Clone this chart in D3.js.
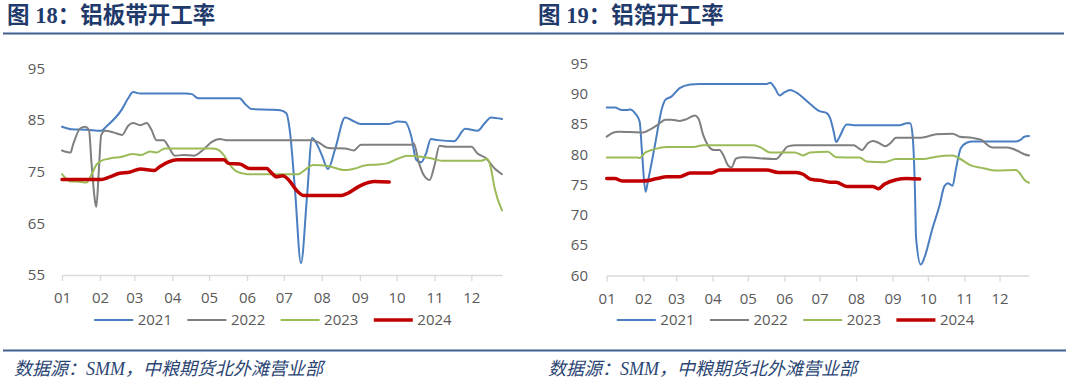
<!DOCTYPE html>
<html><head><meta charset="utf-8">
<script src="https://cdn.jsdelivr.net/npm/d3@7"></script>
<style>
body{margin:0;background:#fff;}
svg{display:block;}
</style></head><body>
<svg id="c" width="1080" height="384"></svg>
<script>
// ---------- data ----------
const years = ["2021", "2022", "2023", "2024"];
const monthLabels = ["01","02","03","04","05","06","07","08","09","10","11","12"];
const titles = ["图 18：铝板带开工率", "图 19：铝箔开工率"];
const sourceText = "数据源：SMM，中粮期货北外滩营业部";

// 图18 铝板带开工率 (x = day of year, y = %)
const plateDays2021 = [0,8,20,32,36,49,54,58,64,80,101,106,111,130,145,149,155,170,178,183,186,190,195,200,204,206,212,217,223,231,236,244,266,274,280,285,289,293,297,301,307,320,329,339,345,350,359];
const plateVals2021 = [83.7,83.2,83.1,82.9,83.7,87.1,89.2,90.4,90.1,90.1,90.1,90.0,89.2,89.2,89.2,88.2,87.1,87.0,86.9,86.3,82.7,71.8,57.3,70.5,81.5,81.1,78.2,75.5,79.5,85.5,85.0,84.2,84.2,84.7,84.6,81.8,77.3,76.8,78.5,81.3,81.1,80.9,83.3,82.9,84.4,85.5,85.2];
const plateDays2022 = [0,7,9,15,19,22,24,27,28,30,32,35,42,49,54,58,64,69,73,77,83,87,92,99,108,115,122,129,134,204,209,217,231,238,244,285,287,291,295,300,304,308,314,334,339,346,353,359];
const plateVals2022 = [79.1,78.7,80.2,83.4,83.7,83.1,76.9,69.2,68.2,75.0,82.1,82.9,82.6,82.1,83.9,84.4,84.0,84.4,83.1,81.1,81.1,79.8,78.1,78.2,78.1,79.2,80.7,81.3,81.1,81.1,80.7,79.6,79.5,79.1,80.2,80.2,80.5,76.9,74.4,73.4,76.3,80.0,79.8,79.8,78.5,77.6,75.6,74.5];
const plateDays2023 = [0,7,12,20,24,28,32,38,49,58,64,72,77,84,123,126,132,137,142,151,193,198,205,217,231,239,247,258,265,274,282,293,301,310,342,347,350,353,359];
const plateVals2023 = [74.5,73.1,73.1,72.9,74.4,76.3,77.1,77.5,77.9,78.4,78.2,78.9,78.7,79.5,79.5,79.4,78.2,76.3,75.1,74.5,74.5,75.3,76.3,76.1,75.3,75.6,76.2,76.4,76.6,77.5,78.1,77.9,77.6,77.1,77.1,77.5,75.6,71.8,67.5];
const plateDays2024 = [0,32,39,47,55,64,75,80,87,94,132,136,145,153,167,170,175,180,185,191,197,228,233,242,250,255,267];
const plateVals2024 = [73.5,73.5,74.0,74.7,74.9,75.5,75.2,76.0,76.9,77.3,77.3,76.6,76.5,75.6,75.6,75.0,74.0,74.2,73.4,71.5,70.4,70.4,70.8,72.1,72.9,73.1,73.0];

// 图19 铝箔开工率
const foilDays2021 = [0,7,13,17,20,24,28,30,33,35,41,47,50,55,62,71,79,136,139,143,147,151,156,161,173,181,187,190,193,195,198,204,210,249,255,258,260,262,263,267,270,277,283,287,290,294,297,301,306,311,348,352,355,359];
const foilVals2021 = [87.7,87.7,87.3,87.3,87.4,86.8,85.4,80.4,73.8,75.5,81.5,87.6,89.0,89.5,90.9,91.5,91.6,91.6,91.8,90.9,89.7,90.2,90.6,90.2,88.3,87.1,86.8,85.9,83.7,82.0,82.9,84.9,84.8,84.8,85.1,85.1,83.2,74.4,66.2,61.8,62.9,67.8,71.6,74.7,75.2,74.8,77.7,81.0,81.9,82.1,82.1,82.4,82.9,83.0];
const foilDays2022 = [0,6,10,31,34,43,50,55,62,68,75,78,82,86,91,96,99,103,106,110,116,144,149,154,161,210,212,217,222,226,231,237,241,246,265,272,280,294,300,311,318,328,340,345,351,355,359];
const foilVals2022 = [82.9,83.6,83.7,83.6,83.8,84.8,85.7,85.7,85.5,85.8,86.4,85.9,83.2,81.5,80.7,80.7,79.9,78.2,77.8,79.3,79.5,79.2,80.2,81.3,81.5,81.5,81.3,80.7,81.8,82.2,81.9,81.3,81.8,82.7,82.7,82.9,83.3,83.4,82.9,82.7,82.4,81.1,81.1,80.9,80.4,80.0,79.8];
const foilDays2023 = [0,26,28,33,40,51,74,82,125,132,139,160,167,173,188,195,215,221,236,246,269,280,294,300,309,320,331,348,351,355,359];
const foilVals2023 = [79.45,79.45,79.4,80.3,80.8,81.2,81.2,81.5,81.5,81.0,80.3,80.3,79.8,80.3,80.4,79.5,79.45,78.8,78.7,79.2,79.2,79.6,79.8,79.3,78.2,77.7,77.3,77.4,76.9,75.8,75.3];
const foilDays2024 = [0,7,13,31,43,51,62,71,89,96,136,146,161,167,173,176,181,190,195,204,226,231,236,246,255,266];
const foilVals2024 = [76.0,76.0,75.6,75.6,76.0,76.3,76.3,76.9,76.9,77.4,77.4,77.0,77.0,76.7,75.9,75.8,75.7,75.4,75.4,74.7,74.7,74.3,75.05,75.8,76.0,75.9];

const plateTicks = [55, 65, 75, 85, 95];
const foilTicks = [60, 65, 70, 75, 80, 85, 90, 95];

// ---------- styles ----------
const seriesColors = ["#4A7EC0", "#7F7F7F", "#9BBB59", "#C00000"];
const seriesWidths = [2, 2, 2, 3.5];
const axisColor = "#D9D9D9";
const textColor = "#595959";
const titleColor = "#1F3A6B";
const ruleColor = "#3F618F";
const numFont = "'Open Sans', sans-serif";

const svg = d3.select("#c");
const baseDate = new Date(2021, 0, 1);
const toDate = d => d3.timeDay.offset(baseDate, d);
const monthStarts = d3.range(12).map(m => new Date(2021, m, 1));

function drawChart(cfg) {
  const x = d3.scaleTime().domain([toDate(0), toDate(359)]).range([cfg.x0, cfg.x1]);
  const y = d3.scaleLinear().domain(cfg.yDomain).range(cfg.yRange);
  const g = svg.append("g");

  // x axis
  const xAxis = d3.axisBottom(x).tickValues(monthStarts)
    .tickFormat((d, i) => monthLabels[i]).tickSizeInner(6).tickSizeOuter(0);
  const ax = g.append("g").attr("transform", `translate(0,${y(cfg.yDomain[0])})`).call(xAxis);
  ax.select(".domain").attr("stroke", axisColor).attr("stroke-width", 1.3);
  ax.selectAll(".tick line").attr("stroke", axisColor).attr("stroke-width", 1.3);
  ax.selectAll("text").attr("y", 23).attr("dy", "0.35em")
    .attr("fill", textColor).style("font-family", numFont).style("font-size", "15px");

  // y axis (labels only)
  const yAxis = d3.axisLeft(y).tickValues(cfg.yTicks).tickSize(0).tickPadding(cfg.x0 - cfg.labelX);
  const ay = g.append("g").attr("transform", `translate(${cfg.x0},0)`).call(yAxis);
  ay.select(".domain").remove();
  ay.selectAll("text").attr("fill", textColor).style("font-family", numFont).style("font-size", "15px");

  // lines
  const line = d3.line().x(d => x(toDate(d[0]))).y(d => y(d[1])).curve(d3.curveMonotoneX);
  cfg.series.forEach((s, i) => {
    const pts = s.days.map((d, k) => [d, s.vals[k]]);
    g.append("path").datum(pts).attr("d", line).attr("fill", "none")
      .attr("stroke", seriesColors[i]).attr("stroke-width", seriesWidths[i])
      .attr("stroke-linejoin", "round").attr("stroke-linecap", "round");
  });

  // legend
  const lg = g.append("g").attr("transform", `translate(${cfg.legendX},320)`);
  years.forEach((yr, i) => {
    const it = lg.append("g").attr("transform", `translate(${i * 93.2},0)`);
    it.append("line").attr("x1", 0).attr("x2", 39).attr("y1", 0).attr("y2", 0)
      .attr("stroke", seriesColors[i]).attr("stroke-width", seriesWidths[i]);
    it.append("text").attr("x", 43.5).attr("y", 0).attr("dy", "0.35em").text(yr)
      .attr("fill", textColor).style("font-family", numFont).style("font-size", "15px");
  });
}

// titles
[[7, titles[0]], [538, titles[1]]].forEach(([tx, t]) => {
  svg.append("text").attr("x", tx).attr("y", 23).text(t)
    .attr("fill", titleColor).style("font-weight", "bold")
    .style("font-family", "'Liberation Serif', 'Noto Sans CJK SC', serif").style("font-size", "22.5px");
});
svg.append("line").attr("x1", 3).attr("x2", 1064).attr("y1", 33.5).attr("y2", 33.5)
  .attr("stroke", ruleColor).attr("stroke-width", 2);

drawChart({
  x0: 62, x1: 502, yDomain: [55, 95], yRange: [275, 68.3], yTicks: plateTicks, labelX: 45, legendX: 94.2,
  series: [
    {days: plateDays2021, vals: plateVals2021},
    {days: plateDays2022, vals: plateVals2022},
    {days: plateDays2023, vals: plateVals2023},
    {days: plateDays2024, vals: plateVals2024}
  ]
});
drawChart({
  x0: 606.7, x1: 1029, yDomain: [60, 95], yRange: [275.5, 63.3], yTicks: foilTicks, labelX: 588, legendX: 616.8,
  series: [
    {days: foilDays2021, vals: foilVals2021},
    {days: foilDays2022, vals: foilVals2022},
    {days: foilDays2023, vals: foilVals2023},
    {days: foilDays2024, vals: foilVals2024}
  ]
});

// footer
svg.append("line").attr("x1", 3).attr("x2", 1066).attr("y1", 350.5).attr("y2", 350.5)
  .attr("stroke", ruleColor).attr("stroke-width", 2);
[14, 548].forEach(fx => {
  svg.append("text").attr("x", fx).attr("y", 375).text(sourceText)
    .attr("fill", "#2B4573").style("font-style", "italic")
    .style("font-family", "'Liberation Serif', 'Noto Sans CJK SC', serif").style("font-size", "18px");
});
</script>
</body></html>
